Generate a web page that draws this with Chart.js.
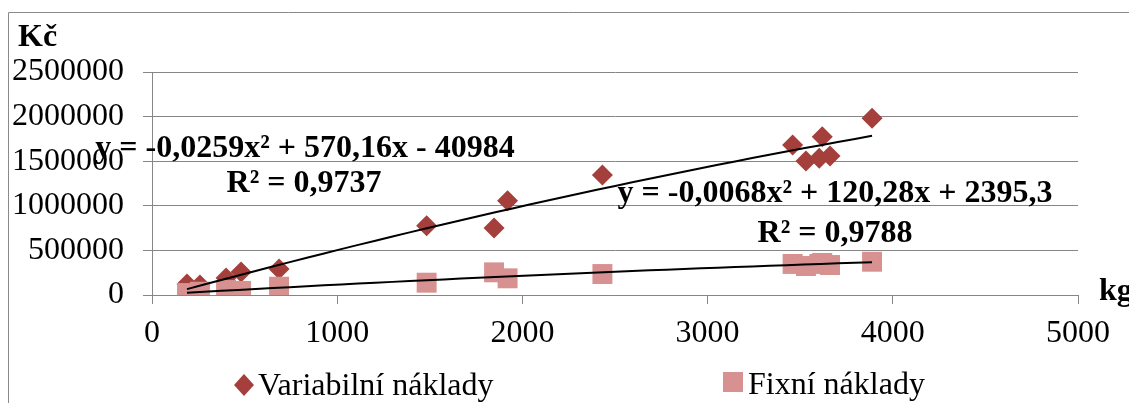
<!DOCTYPE html>
<html>
<head>
<meta charset="utf-8">
<script src="https://cdn.jsdelivr.net/npm/chart.js@4.4.0/dist/chart.umd.min.js"></script>
<style>
    html, body { margin: 0; padding: 0; background: #fff; }
</style>
</head>
<body>
<canvas id="costChart" width="1129" height="403"></canvas>
<script>
// data
const kgValues          = [189, 259, 400, 481, 686, 1483, 1847, 1920, 2432, 3459, 3531, 3603, 3619, 3661, 3888];
const variabilniNaklady = [123000, 112000, 190000, 258000, 291000, 777000, 751000, 1057000, 1345000, 1682000, 1502000, 1532000, 1775000, 1558000, 1981000];
const fixniNaklady      = [22000, 37000, 56000, 45000, 93000, 138000, 254000, 187000, 235000, 348000, 325000, 348000, 359000, 336000, 373000];

const xTickValues = [0, 1000, 2000, 3000, 4000, 5000];
const yTickValues = [0, 500000, 1000000, 1500000, 2000000, 2500000];

// polynomial trendlines (a, b, c) as printed in the chart
const trendVariabilni = [-0.0259, 570.16, -40984];
const trendFixni      = [-0.0068, 120.28, 2395.3];
const eqVariabilni = ['y = -0,0259x² + 570,16x - 40984', 'R² = 0,9737'];
const eqFixni      = ['y = -0,0068x² + 120,28x + 2395,3', 'R² = 0,9788'];

const seriesNames = ['Variabilní náklady', 'Fixní náklady'];
const COLOR_VAR = '#a43f3c';
const COLOR_FIX = '#d79190';
const GRID = '#868686';
const FONT = 'Liberation Serif';

const points = (ys) => kgValues.map((x, i) => ({ x: x, y: ys[i] }));

// sample the trend polynomial between the first and last measured x
function trendPoints(coef) {
    const x0 = Math.min(...kgValues), x1 = Math.max(...kgValues);
    const out = [];
    for (let i = 0; i <= 40; i++) {
        const x = x0 + (x1 - x0) * i / 40;
        out.push({ x: x, y: coef[0] * x * x + coef[1] * x + coef[2] });
    }
    return out;
}

const decor = {
    id: 'decor',
    beforeDraw(chart) {
        const ctx = chart.ctx;
        ctx.save();
        ctx.fillStyle = '#fff';
        ctx.fillRect(0, 0, chart.width, chart.height);
        ctx.strokeStyle = '#8a8a8a';
        ctx.lineWidth = 1;
        ctx.beginPath();
        ctx.moveTo(8.5, chart.height);
        ctx.lineTo(8.5, 12.5);
        ctx.lineTo(chart.width, 12.5);
        ctx.stroke();
        ctx.restore();
    },
    afterDraw(chart) {
        const ctx = chart.ctx;
        ctx.save();
        ctx.fillStyle = '#000';
        ctx.textBaseline = 'alphabetic';

        // axis titles
        ctx.font = `bold 32px ${FONT}`;
        ctx.textAlign = 'left';
        ctx.fillText('Kč', 18, 46);
        ctx.fillText('kg', 1099, 300);

        // trendline equations
        ctx.textAlign = 'center';
        ctx.fillText(eqVariabilni[0], 305, 157);
        ctx.fillText(eqVariabilni[1], 304, 192);
        ctx.fillText(eqFixni[0], 835, 202);
        ctx.fillText(eqFixni[1], 835, 242);

        // legend
        ctx.fillStyle = COLOR_VAR;
        ctx.beginPath();
        ctx.moveTo(234, 385); ctx.lineTo(244, 374); ctx.lineTo(254, 385); ctx.lineTo(244, 396);
        ctx.closePath();
        ctx.fill();
        ctx.fillStyle = COLOR_FIX;
        ctx.fillRect(723, 372, 20, 20);

        ctx.fillStyle = '#000';
        ctx.font = `32px ${FONT}`;
        ctx.textAlign = 'left';
        ctx.fillText(seriesNames[0], 258, 395);
        ctx.fillText(seriesNames[1], 748, 394);
        ctx.restore();
    }
};

new Chart(document.getElementById('costChart'), {
    type: 'scatter',
    data: {
        datasets: [
            { label: 'trend var', data: trendPoints(trendVariabilni), showLine: true, borderColor: '#000', borderWidth: 2, pointRadius: 0, order: 0 },
            { label: 'trend fix', data: trendPoints(trendFixni), showLine: true, borderColor: '#000', borderWidth: 2, pointRadius: 0, order: 1 },
            { label: seriesNames[1], data: points(fixniNaklady), pointStyle: 'rect', pointRadius: 14.1, backgroundColor: COLOR_FIX, borderColor: COLOR_FIX, borderWidth: 0, order: 2 },
            { label: seriesNames[0], data: points(variabilniNaklady), pointStyle: 'rectRot', pointRadius: 10.5, backgroundColor: COLOR_VAR, borderColor: COLOR_VAR, borderWidth: 0, order: 3 }
        ]
    },
    options: {
        responsive: false,
        animation: false,
        layout: { padding: { left: 0, right: 51, top: 72, bottom: 0 } },
        plugins: {
            legend: { display: false },
            tooltip: { enabled: false }
        },
        scales: {
            x: {
                type: 'linear',
                min: 0,
                max: 5000,
                afterBuildTicks: (scale) => { scale.ticks = xTickValues.map(v => ({ value: v })); },
                afterFit: (scale) => { scale.height = 108; },
                grid: { drawOnChartArea: false, drawTicks: true, tickLength: 9, color: GRID },
                border: { color: GRID, width: 1 },
                ticks: { color: '#000', padding: 10, font: { family: FONT, size: 32 }, callback: (v) => String(v) }
            },
            y: {
                type: 'linear',
                min: 0,
                max: 2500000,
                afterBuildTicks: (scale) => { scale.ticks = yTickValues.map(v => ({ value: v })); },
                afterFit: (scale) => { scale.width = 152; },
                grid: { drawTicks: true, tickLength: 9, color: GRID },
                border: { color: GRID, width: 1 },
                ticks: { color: '#000', padding: 19, font: { family: FONT, size: 32 }, callback: (v) => String(v) }
            }
        }
    },
    plugins: [decor]
});
</script>
</body>
</html>
